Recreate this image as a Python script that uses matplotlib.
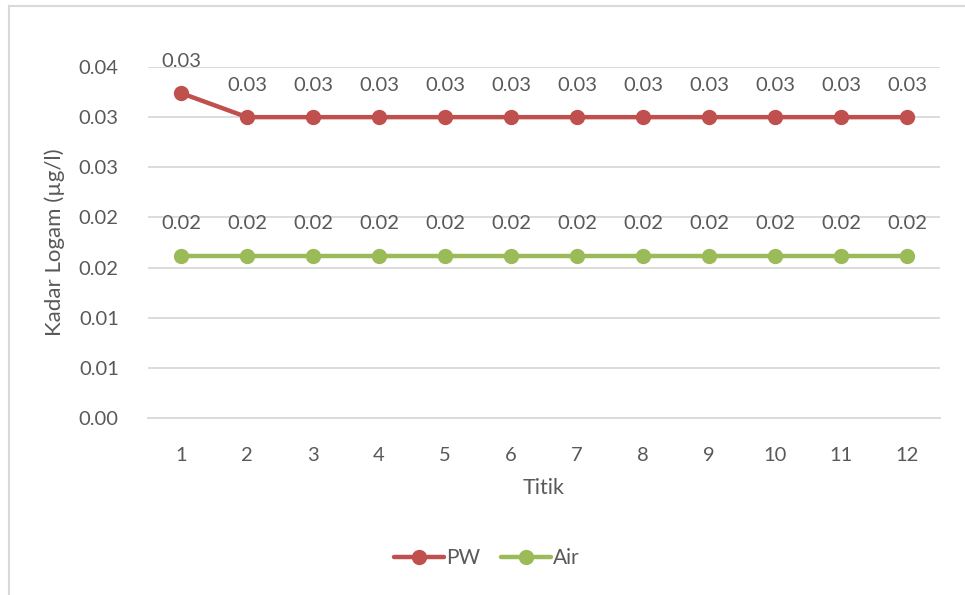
import numpy as np
import matplotlib.pyplot as plt
from matplotlib.lines import Line2D
from matplotlib.ticker import FixedLocator, FuncFormatter

plt.rcParams['font.family'] = ['Lato', 'DejaVu Sans']

titik = [1, 2, 3, 4, 5, 6, 7, 8, 9, 10, 11, 12]
pw = [0.0324, 0.030, 0.030, 0.030, 0.030, 0.030, 0.030, 0.030, 0.030, 0.030, 0.030, 0.030]
air = [0.0162] * 12

grey_text = '#595959'
grid_col = '#D9D9D9'

fig = plt.figure(figsize=(9.65, 5.95), dpi=100)
W, H = 965, 595

# chart area border (left and top edges only)
fig.lines.append(Line2D([9 / W, 9 / W], [0, 1 - 6 / H], transform=fig.transFigure,
                        color=grid_col, linewidth=1.5))
fig.lines.append(Line2D([9 / W, 1], [1 - 6 / H, 1 - 6 / H], transform=fig.transFigure,
                        color=grid_col, linewidth=1.5))

ax = fig.add_axes([148 / W, 1 - 418 / H, (940 - 148) / W, (418 - 67) / H])
ax.set_xlim(0.5, 12.5)
ax.set_ylim(0, 0.035)

for s in ['top', 'right', 'left']:
    ax.spines[s].set_visible(False)
ax.spines['bottom'].set_color(grid_col)
ax.spines['bottom'].set_linewidth(1.3)

ax.yaxis.set_major_locator(FixedLocator(np.arange(0, 0.0351, 0.005)))
ax.yaxis.set_major_formatter(FuncFormatter(lambda v, p: f'{v + 1e-9:.2f}'))
ax.set_xticks(titik)
ax.grid(axis='y', color=grid_col, linewidth=1.3)
ax.set_axisbelow(True)
ax.tick_params(axis='both', length=0, labelsize=14.5, colors=grey_text)
ax.tick_params(axis='x', pad=21)
ax.tick_params(axis='y', pad=21)

ax.plot(titik, pw, color='#C0504D', linewidth=3.2, marker='o', markersize=10, label='PW',
        solid_capstyle='round')
ax.plot(titik, air, color='#9BBB59', linewidth=3.2, marker='o', markersize=10, label='Air',
        solid_capstyle='round')

for x, v in zip(titik, pw):
    ax.annotate(f'{v:.2f}', (x, v), xytext=(0, 23), textcoords='offset points',
                ha='center', va='center', fontsize=14.5, color=grey_text)
for x, v in zip(titik, air):
    ax.annotate(f'{v:.2f}', (x, v), xytext=(0, 23), textcoords='offset points',
                ha='center', va='center', fontsize=14.5, color=grey_text)

ax.set_xlabel('Titik', fontsize=15.5, color=grey_text, labelpad=10)
ax.set_ylabel('Kadar Logam (µg/l)', fontsize=16, color=grey_text, labelpad=10)

leg = fig.legend(loc='center', bbox_to_anchor=(487 / W, 1 - 558 / H), ncol=2, frameon=False,
                 fontsize=15, handlelength=2.4, columnspacing=1.0, handletextpad=0.1,
                 labelcolor=grey_text)

fig.savefig('out.png', dpi=100)
